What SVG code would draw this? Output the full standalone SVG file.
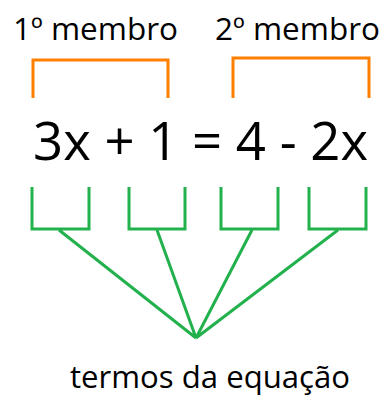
<svg xmlns="http://www.w3.org/2000/svg" width="387" height="395" viewBox="0 0 387 395">
<style>
.t{font-family:"Open Sans","Liberation Sans",sans-serif;fill:#000}
.o{fill:none;stroke:#FF7F00;stroke-width:3}
.g{fill:none;stroke:#22B14C;stroke-width:3}
</style>
<rect width="387" height="395" fill="#fff"/>
<g id="label-member1"><text class="t" x="13" y="40" font-size="31" textLength="165" lengthAdjust="spacingAndGlyphs">1º membro</text></g>
<g id="label-member2"><text class="t" x="215" y="40" font-size="31" textLength="165" lengthAdjust="spacingAndGlyphs">2º membro</text></g>
<g id="equation"><text class="t" x="33" y="160" font-size="53" textLength="335" lengthAdjust="spacingAndGlyphs">3x + 1 = 4 - 2x</text></g>
<g id="label-terms"><text class="t" x="70" y="388" font-size="31" textLength="280" lengthAdjust="spacingAndGlyphs">termos da equação</text></g>
<g id="connectors">
<path class="o" d="M33,98 V60 H168 V98"/>
<path class="o" d="M233,98 V58 H369 V98"/>
<path class="g" d="M32,187 V229 H89 V187"/>
<path class="g" d="M129,187 V229 H185 V187"/>
<path class="g" d="M221,187 V229 H278 V187"/>
<path class="g" d="M309,187 V229 H366 V187"/>
<path class="g" stroke-width="2.5" d="M59,230 L196,338 M157,230 L196,338 M252,230 L196,338 M338,230 L196,338"/>
</g>
</svg>
